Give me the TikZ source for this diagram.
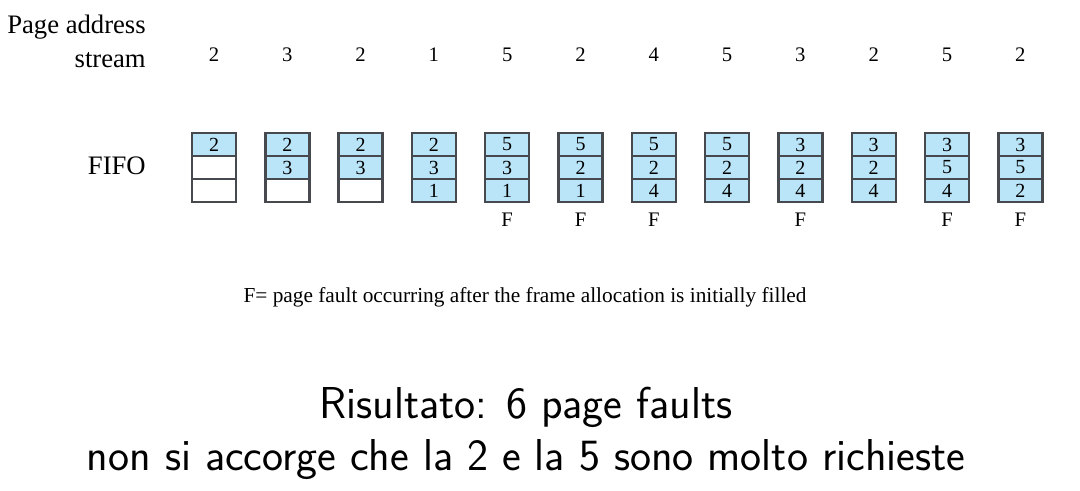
\documentclass[tikz,border=0pt]{standalone}
\usepackage{fontspec}
\setmainfont{Liberation Serif}
\usetikzlibrary{positioning}
\definecolor{framefill}{RGB}{186,228,247}
\definecolor{frameline}{RGB}{70,74,78}
\def\nopage{x}
\tikzset{
frame cell/.style = { rectangle, draw = frameline, line width = 1.8pt, minimum width = 33pt, minimum height = 17.25pt, inner sep = 0pt, outer sep = 0pt, font = \fontsize{15}{15}\selectfont },
full cell/.style = { frame cell, fill = framefill },
empty cell/.style = { frame cell, fill = white },
cell for/.code = { \edef\tmppage{#1}\ifx\tmppage\nopage\pgfkeysalso{empty cell}\else\pgfkeysalso{full cell}\fi },
ref num/.style = { anchor = base, font = \fontsize{15.5}{15.5}\selectfont },
fault/.style = { anchor = base, font = \fontsize{15.5}{15.5}\selectfont },
row label/.style = { anchor = base east, align = right, inner sep = 0pt, font = \fontsize{20}{26}\selectfont },
}

\begin{document}
\begin{tikzpicture}[x = 0.75pt, y = -0.75pt]
    \useasboundingbox (0, 0) rectangle (1080, 491);
    % row labels
    \node[row label] (stream) at (146, 68) {Page address\\stream};
    \node[row label] (fifo) at (146, 175) {FIFO};
    % one column per reference: page / frame 1 / frame 2 / frame 3 / fault
    \foreach \r/\pa/\pb/\pc/\f [count = \i] in {2/2/x/x/x, 3/2/3/x/x, 2/2/3/x/x, 1/2/3/1/x, 5/5/3/1/F, 2/5/2/1/F, 4/5/2/4/F, 5/5/2/4/x, 3/3/2/4/F, 2/3/2/4/x, 5/3/5/4/F, 2/3/5/2/F} {
        \pgfmathsetmacro{\x}{214 + (\i - 1) * 73.3}
        \node[ref num] (s\i) at (\x, 62) {\r};
        \node[cell for = \pa] (c\i-1) at (\x, 144.5) {\ifx\pa\nopage\else\pa\fi};
        \node[cell for = \pb, below = 0pt of c\i-1] (c\i-2) {\ifx\pb\nopage\else\pb\fi};
        \node[cell for = \pc, below = 0pt of c\i-2] (c\i-3) {\ifx\pc\nopage\else\pc\fi};
        \ifx\f\nopage\else
            \node[fault] (f\i) at (\x, 227) {\f};
        \fi
    }
    \node[anchor = base, font = \fontsize{16}{16}\selectfont] (note) at (525, 302) {F= page fault occurring after the frame allocation is initially filled};
    % result
    \node[anchor = base, font = \sffamily\fontsize{33.5}{33.5}\selectfont] (res1) at (526, 418) {Risultato: 6 page faults};
    \node[anchor = base, font = \sffamily\fontsize{33.5}{33.5}\selectfont] (res2) at (526, 470) {non si accorge che la 2 e la 5 sono molto richieste};
\end{tikzpicture}
\end{document}
